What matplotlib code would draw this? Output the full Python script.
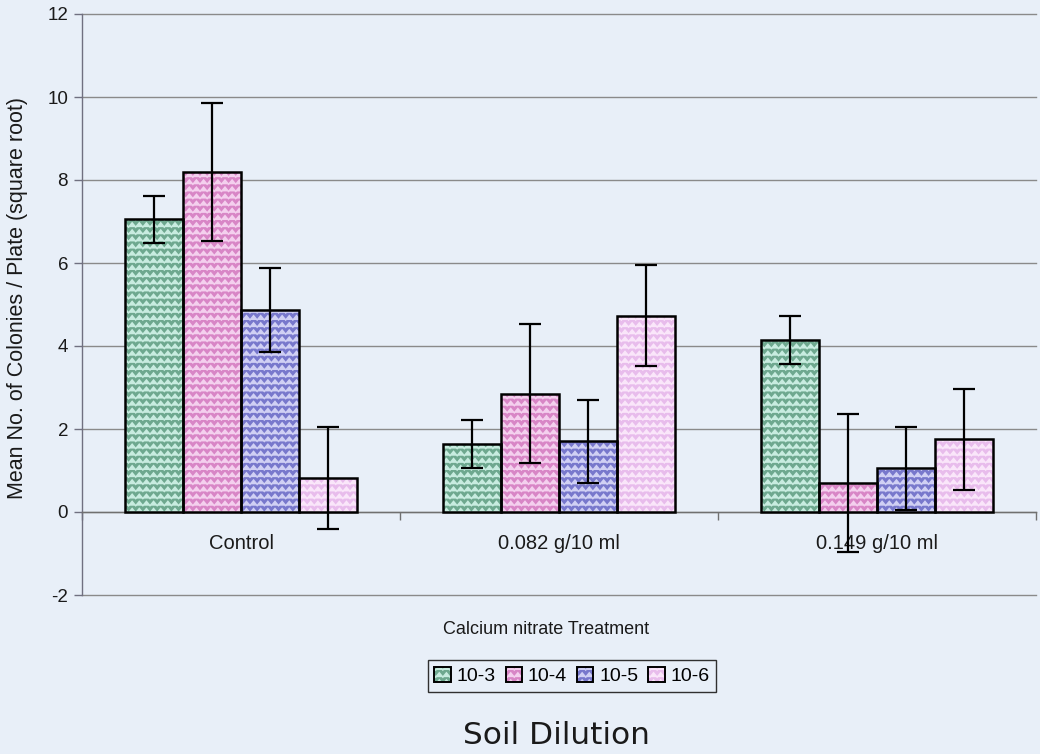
import warnings
import numpy as np
import matplotlib
matplotlib.use("Agg")
import matplotlib.pyplot as plt
from matplotlib import hatch as mhatch
from matplotlib.path import Path
from matplotlib.patches import Rectangle

warnings.filterwarnings("ignore")

# ---- data -------------------------------------------------------------
treatments = ["Control", "0.082 g/10 ml", "0.149 g/10 ml"]
dilutions = ["10-3", "10-4", "10-5", "10-6"]

means_1e3 = [7.05, 1.64, 4.14]
means_1e4 = [8.20, 2.85, 0.70]
means_1e5 = [4.86, 1.70, 1.05]
means_1e6 = [0.82, 4.73, 1.75]

err_1e3 = [0.57, 0.58, 0.58]
err_1e4 = [1.66, 1.68, 1.67]
err_1e5 = [1.01, 1.00, 0.99]
err_1e6 = [1.22, 1.21, 1.21]

y_ticks = [-2, 0, 2, 4, 6, 8, 10, 12]

# ---- zig-zag fill texture ---------------------------------------------
class ZigZagHatch(mhatch.HatchPatternBase):
    def __init__(self, hatch, density):
        self.num_rows = 7 * hatch.count("z")
        self.num_teeth = 2 * self.num_rows
        self.num_vertices = self.num_rows * (self.num_teeth + 1)

    def set_vertices_and_codes(self, vertices, codes):
        n, m = self.num_rows, self.num_teeth
        xs = np.linspace(0.0, 1.0, m + 1)
        amp = 0.30 / n
        offs = np.where(np.arange(m + 1) % 2 == 0, -amp, amp)
        idx = 0
        for r in range(n):
            y0 = (r + 0.5) / n
            vertices[idx:idx + m + 1, 0] = xs
            vertices[idx:idx + m + 1, 1] = y0 + offs
            codes[idx] = Path.MOVETO
            codes[idx + 1:idx + m + 1] = Path.LINETO
            idx += m + 1


mhatch._hatch_types.append(ZigZagHatch)

label_font = ["Liberation Sans", "DejaVu Sans"]
plt.rcParams["hatch.linewidth"] = 1.1
plt.rcParams["font.family"] = label_font
plt.rcParams["axes.unicode_minus"] = False

# ---- styling -----------------------------------------------------------
bg = "#e8eff8"
face_colors = ["#6ea88f", "#d886c6", "#7878cc", "#e8bcec"]
texture_colors = ["#c8ece0", "#f4d0ee", "#d0d0f4", "#fae6fa"]
text_color = "#1a1a1a"

fig = plt.figure(figsize=(10.4, 7.54), dpi=100, facecolor=bg)
ax = fig.add_axes([82 / 1040, 1 - 595 / 754, (1036 - 82) / 1040, (595 - 14) / 754])
ax.set_facecolor(bg)

series = [means_1e3, means_1e4, means_1e5, means_1e6]
errors = [err_1e3, err_1e4, err_1e5, err_1e6]
x = np.arange(len(treatments))
width = 0.1824

legend_handles = []
for i, (vals, errs) in enumerate(zip(series, errors)):
    pos = x + (i - 1.5) * width
    ax.bar(pos, vals, width, color=face_colors[i], edgecolor=texture_colors[i],
           hatch="zz", linewidth=0, zorder=3)
    ax.bar(pos, vals, width, fill=False, edgecolor="black", linewidth=1.8,
           zorder=4)
    ax.errorbar(pos, vals, yerr=errs, fmt="none", ecolor="black",
                elinewidth=1.6, capsize=8, capthick=1.6, zorder=5)
    tex = Rectangle((0, 0), 1, 1, facecolor=face_colors[i],
                    edgecolor=texture_colors[i], hatch="zz", linewidth=0)
    edge = Rectangle((0, 0), 1, 1, fill=False, edgecolor="black", linewidth=1.4)
    legend_handles.append((tex, edge))

# ---- axes --------------------------------------------------------------
ax.set_xlim(-0.5, 2.5)
ax.set_ylim(-2, 12)
ax.set_yticks(y_ticks)
ax.set_xticks(x, treatments)
ax.set_xticks(np.arange(-0.5, 2.6, 1.0), minor=True)
ax.tick_params(axis="x", which="major", length=0, pad=16, labelsize=14.5,
               labelcolor=text_color)
ax.tick_params(axis="x", which="minor", length=6, width=1, color="#707070",
               direction="out")
ax.tick_params(axis="y", length=6, width=1, color="#707080", pad=4,
               labelsize=13.5, labelcolor=text_color)

ax.grid(axis="y", color="#8a8a8a", linewidth=1.0, zorder=0)
ax.set_axisbelow(True)
for gl in ax.yaxis.get_gridlines():
    gl.set_clip_on(False)
for s in ("top", "right"):
    ax.spines[s].set_visible(False)
ax.spines["bottom"].set_position(("data", 0))
ax.spines["bottom"].set_color("#707070")
ax.spines["bottom"].set_linewidth(1.0)
ax.spines["left"].set_color("#707080")
ax.spines["left"].set_linewidth(1.0)

# ---- labels and legend -------------------------------------------------
fig.text(18 / 1040, 1 - 298 / 754, "Mean No. of Colonies / Plate (square root)",
         rotation=90, ha="center", va="center", fontsize=15.5, color=text_color)
fig.text(546 / 1040, 1 - 630 / 754, "Calcium nitrate Treatment",
         ha="center", va="center", fontsize=13, color=text_color)
fig.text(556 / 1040, 1 - 735 / 754, "Soil Dilution", ha="center", va="center",
         fontsize=22.5, family="DejaVu Sans", color=text_color)

leg = fig.legend(legend_handles, dilutions, loc="center",
                 bbox_to_anchor=(572 / 1040, 1 - 676 / 754), ncol=4,
                 frameon=True, fancybox=False, edgecolor="#303030",
                 facecolor=bg, framealpha=1, handlelength=0.85,
                 handleheight=0.85, handletextpad=0.3, columnspacing=0.5,
                 borderpad=0.35, prop={"size": 14})
leg.get_frame().set_linewidth(1.0)

fig.savefig("out.png", dpi=100, facecolor=bg)
